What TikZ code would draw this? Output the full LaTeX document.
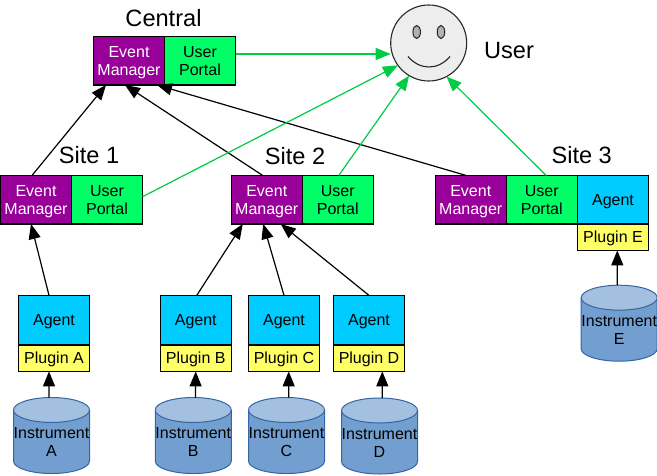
\documentclass[tikz,border=0pt]{standalone}
\usepackage{fontspec}
\setmainfont{Liberation Sans}
\usetikzlibrary{arrows.meta,shapes.geometric}
\definecolor{emfill}{HTML}{990099}
\definecolor{upfill}{HTML}{00FF66}
\definecolor{agfill}{HTML}{00CCFF}
\definecolor{plfill}{HTML}{FFFF66}
\definecolor{cylbody}{HTML}{729FCF}
\definecolor{cyltop}{HTML}{A3C0E0}
\definecolor{cylline}{HTML}{3465A4}
\definecolor{userline}{HTML}{00CC44}
\tikzset{
	box/.style={draw=black,line width=1.2pt,inner sep=0pt,outer sep=0pt,minimum width=71pt,align=center,text depth=0pt},
	manager/.style={box,fill=emfill,text=white,minimum height=48.5pt},
	portal/.style={box,fill=upfill,minimum height=48.5pt},
	agent/.style={box,fill=agfill,minimum height=49.5pt},
	plugin/.style={box,fill=plfill,minimum height=26.4pt},
	instrument/.style={shape=cylinder,shape border rotate=90,aspect=0.33,draw=cylline,line width=1pt,
		cylinder uses custom fill,cylinder body fill=cylbody,cylinder end fill=cyltop,
		minimum width=76pt,minimum height=76pt,inner sep=0pt,outer sep=0pt,align=center},
	title/.style={font=\fontsize{23.6}{26}\selectfont},
	link/.style={->,line width=1.2pt},
	userlink/.style={->,line width=1.2pt,draw=userline,fill=userline}
}
\begin{document}
\begin{tikzpicture}[>={Triangle[length=15pt,width=12pt]},x=1pt,y=-1pt,font=\fontsize{16}{18}\selectfont]
	\useasboundingbox (0,0) rectangle (657,476);
	% sites
	\foreach \n/\x/\y in {c/129/60.75,s1/36/199.75,s2/266.75/199.75,s3/470.75/199.75}{
		\node[manager] (em\n) at (\x,\y) {Event\\Manager};
		\node[portal] (up\n) at (\x+71,\y) {User\\Portal};
	}
	% agents
	\foreach \n/\x in {A/54,B/195.75,C/284,D/369}{
		\node[agent] (ag\n) at (\x,320.15) {Agent};
		\node[plugin] (pl\n) at (\x,358.2) {Plugin \n};
	}
	\node[agent,minimum height=48.5pt] (agE) at (613,199.75) {Agent};
	\node[plugin] (plE) at (613,237.2) {Plugin E};
	% instruments
	\foreach \n/\x/\y in {A/51.5/442,B/193.25/442,C/286.5/442,D/379.5/442.5,E/619.2/329.7}{
		\node[instrument] (in\n) at (\x,\y) {Instrument\\\n};
	}
	% user
	\node[circle,draw=black!85,fill=black!7,line width=1.1pt,minimum size=76pt,inner sep=0pt,outer sep=0pt] (face) at (428.7,43) {};
	\node[ellipse,draw=black!85,fill=black!30,line width=1pt,minimum width=7.5pt,minimum height=13pt,inner sep=0pt] (eyeL) at (416.7,32) {};
	\node[ellipse,draw=black!85,fill=black!30,line width=1pt,minimum width=7.5pt,minimum height=13pt,inner sep=0pt] (eyeR) at (441,32) {};
	\draw[line width=1.1pt,black!85] (408,56.5) .. controls (420,70.5) and (438,70.5) .. (450,56.5);
	% titles
	\node[title] (tc) at (163.5,18) {Central};
	\node[title] (t1) at (89,155) {Site 1};
	\node[title] (t2) at (295,156) {Site 2};
	\node[title] (t3) at (581.7,155) {Site 3};
	\node[title] (tu) at (509,50) {User};
	% event links
	\draw[link] ([xshift=-4pt]ems1.north) -- ([xshift=-23pt]emc.south);
	\draw[link] ([xshift=-4pt]ems2.north) -- ([xshift=-4pt]emc.south);
	\draw[link] ([xshift=-4.5pt]ems3.north) -- ([xshift=28pt]emc.south);
	\draw[link] ([xshift=-5pt]agA.north) -- ([xshift=-5pt]ems1.south);
	\draw[link] ([xshift=1pt]agB.north) -- ([xshift=-24pt]ems2.south);
	\draw[link] (agC.north) -- ([xshift=-3.5pt]ems2.south);
	\draw[link] (agD.north) -- ([xshift=14pt]ems2.south);
	% portal links
	\draw[userlink] ([yshift=6.75pt]upc.east) -- ([yshift=-11pt]face.west);
	\draw[userlink] ([yshift=3pt]ups1.east) -- (face.216);
	\draw[userlink] ([xshift=1pt]ups2.north) -- (face.239);
	\draw[userlink] ([xshift=4.5pt]ups3.north) -- (face.298);
	% instrument links
	\foreach \n/\s/\t in {A/-2.5/-5,B/2.25/0,C/2.2/4.7,D/2.8/13.3,E/-1.9/4.3}{
		\draw[link] ([xshift=\s pt]in\n.north) -- ([xshift=\t pt]pl\n.south);
	}
\end{tikzpicture}
\end{document}
